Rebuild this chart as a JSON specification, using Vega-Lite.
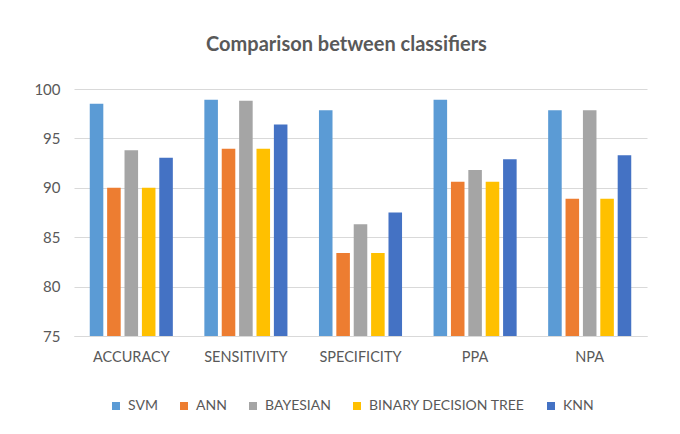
{
  "$schema": "https://vega.github.io/schema/vega-lite/v6.json",
  "autosize": {"type": "none"},
  "padding": {"left": 74, "top": 89, "right": 33, "bottom": 98},
  "width": 573,
  "height": 247,
  "background": "white",
  "title": {
    "text": "Comparison between classifiers",
    "anchor": "middle",
    "frame": "group",
    "dx": -14,
    "offset": 27,
    "font": "Lato",
    "fontSize": 20,
    "fontWeight": "bold",
    "color": "#595959"
  },
  "data": {
    "values": [
      {"metric": "ACCURACY", "classifier": "SVM", "value": 98.5},
      {"metric": "ACCURACY", "classifier": "ANN", "value": 90.0},
      {"metric": "ACCURACY", "classifier": "BAYESIAN", "value": 93.8},
      {"metric": "ACCURACY", "classifier": "BINARY DECISION TREE", "value": 90.0},
      {"metric": "ACCURACY", "classifier": "KNN", "value": 93.05},
      {"metric": "SENSITIVITY", "classifier": "SVM", "value": 98.9},
      {"metric": "SENSITIVITY", "classifier": "ANN", "value": 93.95},
      {"metric": "SENSITIVITY", "classifier": "BAYESIAN", "value": 98.8},
      {"metric": "SENSITIVITY", "classifier": "BINARY DECISION TREE", "value": 93.95},
      {"metric": "SENSITIVITY", "classifier": "KNN", "value": 96.4},
      {"metric": "SPECIFICITY", "classifier": "SVM", "value": 97.85},
      {"metric": "SPECIFICITY", "classifier": "ANN", "value": 83.4},
      {"metric": "SPECIFICITY", "classifier": "BAYESIAN", "value": 86.3},
      {"metric": "SPECIFICITY", "classifier": "BINARY DECISION TREE", "value": 83.4},
      {"metric": "SPECIFICITY", "classifier": "KNN", "value": 87.5},
      {"metric": "PPA", "classifier": "SVM", "value": 98.9},
      {"metric": "PPA", "classifier": "ANN", "value": 90.6},
      {"metric": "PPA", "classifier": "BAYESIAN", "value": 91.8},
      {"metric": "PPA", "classifier": "BINARY DECISION TREE", "value": 90.6},
      {"metric": "PPA", "classifier": "KNN", "value": 92.9},
      {"metric": "NPA", "classifier": "SVM", "value": 97.85},
      {"metric": "NPA", "classifier": "ANN", "value": 88.9},
      {"metric": "NPA", "classifier": "BAYESIAN", "value": 97.85},
      {"metric": "NPA", "classifier": "BINARY DECISION TREE", "value": 88.9},
      {"metric": "NPA", "classifier": "KNN", "value": 93.3}
    ]
  },
  "mark": {"type": "bar", "clip": true},
  "encoding": {
    "x": {
      "field": "metric",
      "type": "nominal",
      "sort": ["ACCURACY", "SENSITIVITY", "SPECIFICITY", "PPA", "NPA"],
      "scale": {"paddingInner": 0.275, "paddingOuter": 0.1375},
      "axis": {
        "title": null,
        "labelAngle": 0,
        "ticks": false,
        "domain": true,
        "domainColor": "#d9d9d9",
        "labelPadding": 14,
        "labelFont": "Lato",
        "labelFontSize": 14.5,
        "labelColor": "#595959"
      }
    },
    "xOffset": {
      "field": "classifier",
      "type": "nominal",
      "sort": ["SVM", "ANN", "BAYESIAN", "BINARY DECISION TREE", "KNN"],
      "scale": {"paddingInner": 0.22}
    },
    "y": {
      "field": "value",
      "type": "quantitative",
      "scale": {"domain": [75, 100], "zero": false, "nice": false},
      "axis": {
        "title": null,
        "values": [75, 80, 85, 90, 95, 100],
        "domain": false,
        "ticks": false,
        "grid": true,
        "gridColor": "#d9d9d9",
        "labelPadding": 14,
        "labelFont": "Lato",
        "labelFontSize": 15,
        "labelColor": "#595959"
      }
    },
    "color": {
      "field": "classifier",
      "type": "nominal",
      "sort": ["SVM", "ANN", "BAYESIAN", "BINARY DECISION TREE", "KNN"],
      "scale": {
        "domain": ["SVM", "ANN", "BAYESIAN", "BINARY DECISION TREE", "KNN"],
        "range": ["#5B9BD5", "#ED7D31", "#A5A5A5", "#FFC000", "#4472C4"]
      },
      "legend": {
        "title": null,
        "orient": "none",
        "legendX": 35,
        "legendY": 310,
        "direction": "horizontal",
        "columns": 5,
        "symbolType": "square",
        "symbolSize": 64,
        "symbolStrokeWidth": 0,
        "labelFont": "Lato",
        "labelFontSize": 14,
        "labelColor": "#595959",
        "labelOffset": 5,
        "columnPadding": 19,
        "labelLimit": 300
      }
    }
  },
  "config": {"view": {"stroke": null}}
}
